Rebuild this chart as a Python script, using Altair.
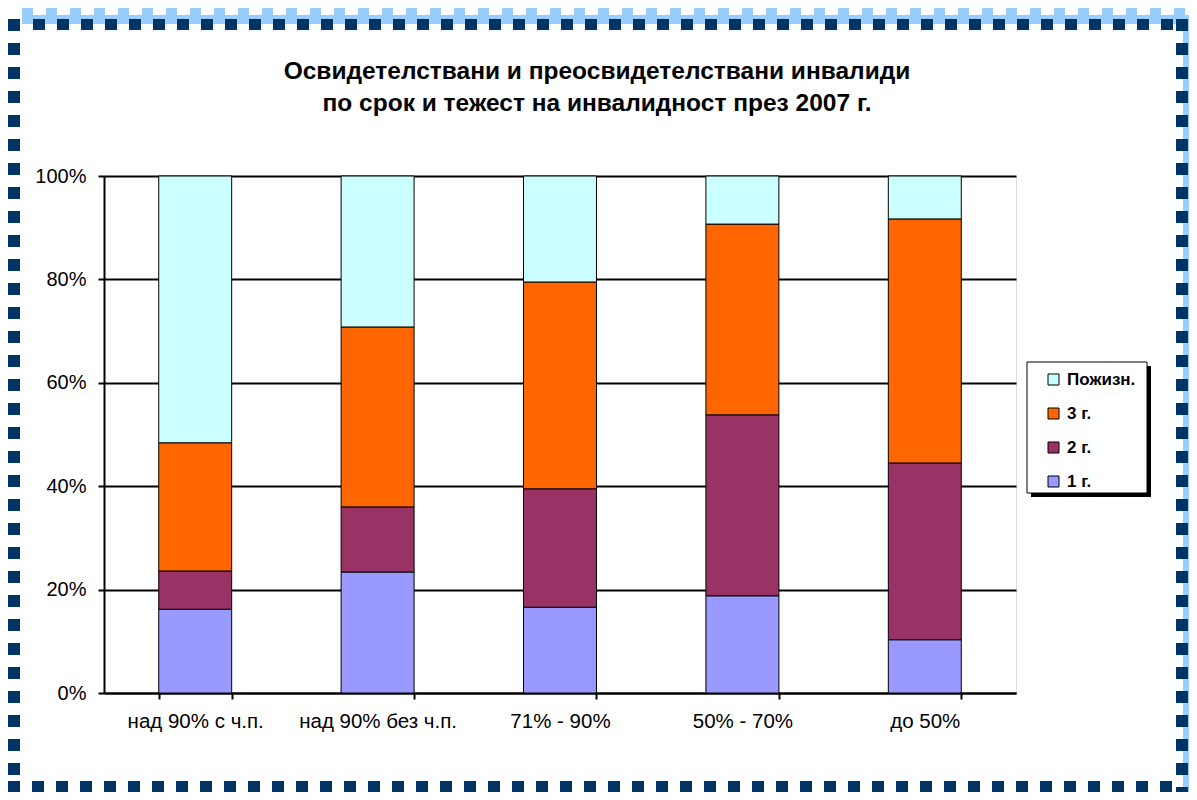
import altair as alt
import pandas as pd

categories = ["над 90% с ч.п.", "над 90% без ч.п.", "71% - 90%", "50% - 70%", "до 50%"]
series = ["Пожизн.", "3 г.", "2 г.", "1 г."]
colors = ["#CCFFFF", "#FF6600", "#993366", "#9999FF"]
v_1g = [16.2, 23.4, 16.6, 18.8, 10.3]
v_2g = [7.4, 12.6, 22.9, 35.0, 34.2]
v_3g = [24.8, 34.8, 40.0, 36.9, 47.2]
v_life = [51.6, 29.2, 20.5, 9.3, 8.3]
title_lines = ["Освидетелствани и преосвидетелствани инвалиди",
               "по срок и тежест на инвалидност през 2007 г."]

rows = []
for name, vals, order in [("1 г.", v_1g, 0), ("2 г.", v_2g, 1), ("3 г.", v_3g, 2), ("Пожизн.", v_life, 3)]:
    for c, v in zip(categories, vals):
        rows.append({"cat": c, "series": name, "value": v / 100.0, "ord": order})
df = pd.DataFrame(rows)

FONT = "Liberation Sans"
W, H = 912, 517
# page offsets of plot area origin
PX, PY = 104, 176

def px(x):
    return x - PX

def py(y):
    return y - PY

one = alt.Data(values=[{"k": 1}])

bars = alt.Chart(df).mark_bar(stroke="black", strokeWidth=1).encode(
    x=alt.X("cat:N", sort=categories, title=None,
            scale=alt.Scale(paddingInner=0.6, paddingOuter=0.3),
            axis=alt.Axis(labelAngle=0, tickBand="extent", labelFontSize=20.5, labelFont=FONT,
                          labelColor="black", domainColor="black", domainWidth=2,
                          tickColor="black", tickWidth=2, tickSize=6, labelPadding=12,
                          grid=False)),
    y=alt.Y("value:Q", stack="zero", title=None,
            scale=alt.Scale(domain=[0, 1], nice=False),
            axis=alt.Axis(format=".0%", values=[0, 0.2, 0.4, 0.6, 0.8, 1.0],
                          labelFontSize=20, labelFont=FONT, labelColor="black",
                          domainColor="black", domainWidth=2, tickColor="black",
                          tickWidth=2, tickSize=6, labelPadding=12,
                          grid=True, gridColor="black", gridWidth=2, gridOpacity=1)),
    color=alt.Color("series:N", scale=alt.Scale(domain=series, range=colors),
                    legend=alt.Legend(title=None, orient="none", legendX=px(1045), legendY=py(371),
                                      symbolType="square", symbolSize=121, symbolStrokeColor="black",
                                      symbolStrokeWidth=1, labelFont=FONT, labelFontSize=17,
                                      labelFontWeight="bold", labelColor="black", rowPadding=16,
                                      labelOffset=5, padding=0)),
    order=alt.Order("ord:Q", sort="ascending"),
)

def rule(x1, x2, y1, y2, color, width, dash=None):
    kw = dict(color=color, strokeWidth=width, strokeCap="butt")
    if dash:
        kw["strokeDash"] = dash
    return alt.Chart(one).mark_rule(**kw).encode(
        x=alt.value(px(x1)), x2=alt.value(px(x2)), y=alt.value(py(y1)), y2=alt.value(py(y2)))

LB = "#99CCFF"
DK = "#003366"
border = [
    rule(22, 1189, 19.5, 19.5, LB, 9),
    rule(22, 1189, 14, 14, LB, 12, [11, 13]),
    rule(1186, 1186, 19, 792, LB, 6),
    rule(33, 1176, 24.5, 24.5, DK, 11, [12, 12]),
    rule(14, 14, 19, 792, DK, 12, [12, 12]),
    rule(1182, 1182, 19, 792, DK, 12, [12, 12]),
    rule(8, 1176, 786.5, 786.5, DK, 11, [12, 12]),
]

shadow = alt.Chart(one).mark_rect(color="black").encode(
    x=alt.value(px(1031)), x2=alt.value(px(1151)), y=alt.value(py(366)), y2=alt.value(py(497)))
box = alt.Chart(one).mark_rect(fill="white", stroke="black", strokeWidth=1).encode(
    x=alt.value(px(1027)), x2=alt.value(px(1147)), y=alt.value(py(362)), y2=alt.value(py(493)))

titles = [
    alt.Chart(one).mark_text(text=t, font=FONT, fontSize=24.5, fontWeight="bold", color="black",
                             align="center", baseline="middle").encode(
        x=alt.value(px(597)), y=alt.value(py(yy)))
    for t, yy in zip(title_lines, [72, 104])
]

chart = alt.layer(*border, shadow, box, *titles, bars).properties(
    width=W, height=H,
    autosize=alt.AutoSizeParams(type="none"),
    padding={"left": 96, "top": 168, "right": 173, "bottom": 99},
).configure_view(stroke=None).configure(background="white")

chart.save("out.html", embed_options={"renderer": "svg", "actions": False})
